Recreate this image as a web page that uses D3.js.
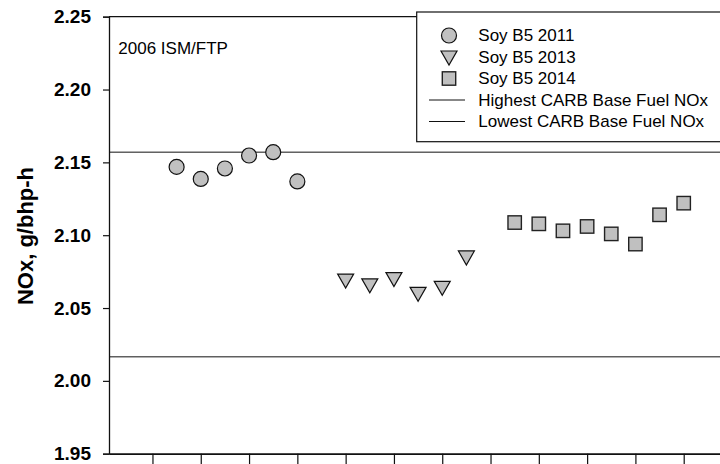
<!DOCTYPE html>
<html>
<head>
<meta charset="utf-8">
<script src="https://cdn.jsdelivr.net/npm/d3@7"></script>
<style>
  body { margin: 0; background: #fff; }
  svg { display: block; font-family: Arial, "Liberation Sans", sans-serif; }
</style>
</head>
<body>
<div id="chart"></div>
<script>
// data
const soy2011Pos = [1, 2, 3, 4, 5, 6];
const soy2011 = [2.1469, 2.1386, 2.1458, 2.1547, 2.1570, 2.1369];
const soy2013Pos = [8, 9, 10, 11, 12, 13];
const soy2013 = [2.0685, 2.0652, 2.0695, 2.0594, 2.0635, 2.0844];
const soy2014Pos = [15, 16, 17, 18, 19, 20, 21, 22];
const soy2014 = [2.1087, 2.1078, 2.1030, 2.1060, 2.1009, 2.0939, 2.1140, 2.1220];
const highestCarb = 2.157;
const lowestCarb = 2.0165;
const yTicks = [1.95, 2.00, 2.05, 2.10, 2.15, 2.20, 2.25];
const xTicks = [0, 2, 4, 6, 8, 10, 12, 14, 16, 18, 20, 22, 24];
const legendLabels = ['Soy B5 2011', 'Soy B5 2013', 'Soy B5 2014',
  'Highest CARB Base Fuel NOx', 'Lowest CARB Base Fuel NOx'];

const width = 720, height = 464;
const plot = {left: 109, right: 732, top: 16.7, bottom: 453.7};

const svg = d3.select('#chart').append('svg')
    .attr('width', width)
    .attr('height', height);

const x = d3.scaleLinear().domain([-1.8, 24]).range([plot.left, plot.right]);
const y = d3.scaleLinear().domain([1.95, 2.25]).range([plot.bottom, plot.top]);

// reference lines
svg.selectAll('.ref')
  .data([highestCarb, lowestCarb])
  .enter().append('line')
    .attr('x1', plot.left).attr('x2', plot.right)
    .attr('y1', d => y(d)).attr('y2', d => y(d))
    .attr('stroke', '#111').attr('stroke-width', 1);

// frame top
svg.append('line')
    .attr('x1', plot.left).attr('x2', plot.right)
    .attr('y1', plot.top).attr('y2', plot.top)
    .attr('stroke', '#111').attr('stroke-width', 1.2);

// y axis
const yAxis = svg.append('g')
    .attr('transform', `translate(${plot.left},0)`)
    .call(d3.axisLeft(y).tickValues(yTicks).tickFormat(d3.format('.2f')).tickSize(6).tickPadding(12));
yAxis.select('.domain').attr('stroke', '#111').attr('stroke-width', 1.3);
yAxis.selectAll('.tick line').attr('stroke', '#111').attr('stroke-width', 1.2);
yAxis.selectAll('.tick text')
    .attr('font-family', 'Arial, "Liberation Sans", sans-serif')
    .attr('font-size', 19).attr('font-weight', 'bold').attr('fill', '#000');

// x axis (ticks only)
const xAxis = svg.append('g')
    .attr('transform', `translate(0,${plot.bottom})`)
    .call(d3.axisBottom(x).tickValues(xTicks).tickFormat('').tickSize(12).tickSizeOuter(0));
xAxis.select('.domain').attr('stroke', '#111').attr('stroke-width', 1.8);
xAxis.selectAll('.tick line').attr('stroke', '#111').attr('stroke-width', 1.2);

// y label
svg.append('text')
    .attr('transform', `translate(33,236) rotate(-90)`)
    .attr('text-anchor', 'middle')
    .attr('font-size', 22).attr('font-weight', 'bold')
    .text('NOx, g/bhp-h');

svg.append('text')
    .attr('x', 118.3).attr('y', 54.3)
    .attr('font-size', 17)
    .text('2006 ISM/FTP');

const fill = '#c0c0c0';
const triPath = 'M-8,-7L8,-7L0,7Z';

// circles
svg.selectAll('.c2011')
  .data(soy2011)
  .enter().append('circle')
    .attr('cx', (d, i) => x(soy2011Pos[i]))
    .attr('cy', d => y(d))
    .attr('r', 7.5)
    .attr('fill', fill).attr('stroke', '#111').attr('stroke-width', 1.2);

// triangles
svg.selectAll('.t2013')
  .data(soy2013)
  .enter().append('path')
    .attr('d', triPath)
    .attr('transform', (d, i) => `translate(${x(soy2013Pos[i])},${y(d)})`)
    .attr('fill', fill).attr('stroke', '#111').attr('stroke-width', 1.2);

// squares
svg.selectAll('.s2014')
  .data(soy2014)
  .enter().append('rect')
    .attr('x', (d, i) => x(soy2014Pos[i]) - 6.7)
    .attr('y', d => y(d) - 6.7)
    .attr('width', 13.4).attr('height', 13.4)
    .attr('fill', fill).attr('stroke', '#222').attr('stroke-width', 1.4);

// legend
const legend = svg.append('g');
legend.append('rect')
    .attr('x', 416.7).attr('y', 12)
    .attr('width', 320).attr('height', 129.7)
    .attr('fill', '#fff').attr('stroke', '#111').attr('stroke-width', 1.2);

const rowY = i => 35.5 + i * 21.5;
const mx = 449;
legend.append('circle')
    .attr('cx', mx).attr('cy', rowY(0)).attr('r', 7.5)
    .attr('fill', fill).attr('stroke', '#111').attr('stroke-width', 1.2);
legend.append('path')
    .attr('d', triPath)
    .attr('transform', `translate(${mx},${rowY(1) + 1})`)
    .attr('fill', fill).attr('stroke', '#111').attr('stroke-width', 1.2);
legend.append('rect')
    .attr('x', mx - 6.7).attr('y', rowY(2) - 6.7)
    .attr('width', 13.4).attr('height', 13.4)
    .attr('fill', fill).attr('stroke', '#222').attr('stroke-width', 1.4);
[3, 4].forEach(i => {
  legend.append('line')
      .attr('x1', 429).attr('x2', 465)
      .attr('y1', rowY(i)).attr('y2', rowY(i))
      .attr('stroke', '#111').attr('stroke-width', 1);
});
legend.selectAll('.lt')
  .data(legendLabels)
  .enter().append('text')
    .attr('x', 478.3)
    .attr('y', (d, i) => rowY(i))
    .attr('dy', '0.35em')
    .attr('font-size', 17)
    .text(d => d);
</script>
</body>
</html>
